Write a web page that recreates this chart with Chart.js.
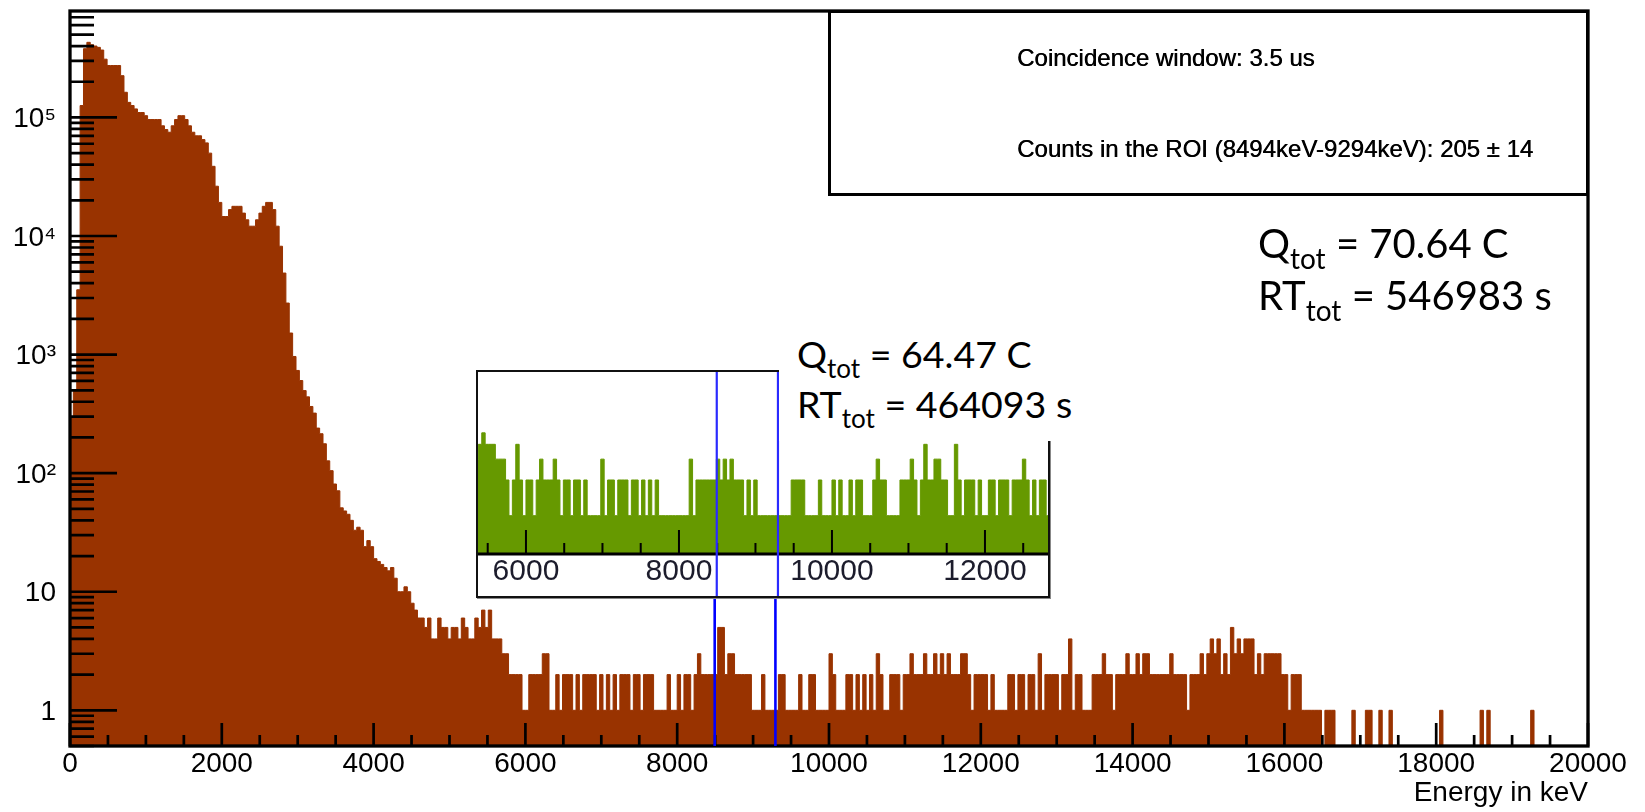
<!DOCTYPE html>
<html>
<head>
<meta charset="utf-8">
<title>Coincidence spectrum</title>
<script src="https://cdn.jsdelivr.net/npm/chart.js@4.4.0/dist/chart.umd.min.js"></script>
<style>
  body { margin: 0; background: #fff; }
  #wrap { position: relative; width: 1645px; height: 812px; overflow: hidden; }
  #spectrum { position: absolute; left: 0; top: 0; }
  #inset { position: absolute; left: 476px; top: 370px; width: 570px; height: 224px;
           border: 2px solid #111; box-shadow: 1px 1px 0 #888; background: #fff; }
  #insetChart { display: block; filter: blur(0.6px); }
  #legend { position: absolute; left: 828px; top: 10px; width: 755px; height: 180px;
            border: 3px solid #000; background: #fff;
            font: 24px "Liberation Sans", Arial, sans-serif; color: #000; }
  #legend div { position: absolute; left: 186px; line-height: 26px; white-space: nowrap;
                filter: blur(0.45px); text-shadow: 0.5px 0 0 #000; }
  .note { position: absolute; font-family: Lato, "Open Sans", sans-serif;
          color: #000; white-space: nowrap; }
  .note sub { vertical-align: baseline; position: relative; }
  #noteRun { left: 779px; top: 322px; width: 300px; height: 119px; padding: 9px 0 0 18px;
             box-sizing: border-box; background: #fff; font-size: 37.5px; line-height: 45px; }
  #noteRun sub { font-size: 26px; top: 10px; }
  #noteAll { left: 1258px; top: 219px; font-size: 40px; line-height: 48px; }
  #noteAll sub { font-size: 28px; top: 11px; }
</style>
</head>
<body>
<div id="wrap">
  <canvas id="spectrum" width="1645" height="812"></canvas>
  <div id="inset"><canvas id="insetChart" width="570" height="224"></canvas></div>
  <div id="legend">
    <div style="top:32px">Coincidence window: 3.5 us</div>
    <div style="top:123px">Counts in the ROI (8494keV-9294keV): 205 ± 14</div>
  </div>
  <div class="note" id="noteRun"><div>Q<sub>tot</sub> = 64.47 C</div><div>RT<sub>tot</sub> = 464093 s</div></div>
  <div class="note" id="noteAll"><div>Q<sub>tot</sub> = 70.64 C</div><div>RT<sub>tot</sub> = 546983 s</div></div>
</div>
<script>
// histogram range, 450 bins
const energyMin = 0;
const energyMax = 20000;

// counts per bin, full statistics
const counts = [
  300, 500, 3520, 126000, 380000, 430000, 410000, 400000, 390000, 370000,
  310000, 274000, 274000, 274000, 274000, 225000, 163000, 134000, 126000, 118000,
  110000, 110000, 103500, 96000, 96000, 96000, 96000, 85000, 79000, 75000,
  85000, 96000, 103500, 103500, 96000, 85000, 75000, 70000, 70000, 65000,
  61000, 50000, 38700, 26300, 19200, 14600, 14600, 16700, 17800, 17800,
  17800, 15600, 13700, 12100, 12100, 13700, 15600, 17800, 19200, 19200,
  16700, 12100, 8200, 4870, 2720, 1520, 964, 735, 604, 497,
  440, 365, 321, 240, 215, 177, 127, 105, 81, 71,
  51, 48, 45, 40, 33, 35, 33, 24, 27, 24,
  19, 18, 17, 16, 15, 16, 13, 10, 10, 11,
  10, 8, 7, 6, 6, 5, 6, 4, 4, 6,
  5, 5, 4, 5, 5, 4, 6, 5, 4, 4,
  6, 5, 7, 5, 7, 4, 4, 4, 3, 3,
  2, 2, 2, 2, 1, 1, 2, 2, 2, 2,
  3, 3, 1, 1, 2, 1, 2, 2, 2, 1,
  2, 1, 2, 2, 2, 2, 1, 2, 1, 2,
  1, 2, 1, 2, 2, 2, 1, 2, 2, 1,
  2, 2, 2, 1, 1, 1, 1, 2, 1, 1,
  2, 1, 2, 2, 1, 2, 3, 2, 2, 2,
  2, 2, 5, 5, 2, 3, 3, 2, 2, 2,
  2, 2, 1, 1, 1, 2, 1, 1, 1, 1,
  2, 2, 1, 1, 1, 1, 2, 1, 1, 2,
  2, 1, 1, 1, 1, 3, 2, 1, 1, 1,
  2, 2, 1, 2, 1, 2, 1, 2, 1, 3,
  2, 1, 1, 2, 2, 2, 1, 2, 2, 3,
  2, 2, 2, 3, 2, 2, 3, 2, 3, 2,
  3, 2, 2, 2, 3, 3, 2, 1, 2, 2,
  2, 2, 1, 2, 1, 1, 1, 1, 2, 2,
  1, 2, 2, 1, 2, 2, 1, 3, 1, 2,
  2, 2, 2, 1, 2, 2, 4, 1, 2, 2,
  1, 1, 1, 2, 2, 2, 3, 2, 2, 1,
  2, 2, 2, 3, 2, 2, 3, 2, 3, 3,
  2, 2, 2, 2, 2, 2, 3, 2, 2, 2,
  2, 1, 2, 2, 2, 3, 2, 3, 4, 3,
  4, 2, 3, 2, 5, 3, 4, 3, 4, 4,
  4, 2, 3, 2, 3, 3, 3, 3, 3, 2,
  2, 1, 2, 2, 2, 1, 1, 1, 1, 1,
  1, 0, 1, 1, 1, 0, 0, 0, 0, 0,
  1, 0, 0, 0, 1, 1, 0, 0, 1, 0,
  0, 1, 0, 0, 0, 0, 0, 0, 0, 0,
  0, 0, 0, 0, 0, 0, 1, 0, 0, 0,
  0, 0, 0, 0, 0, 0, 0, 0, 1, 0,
  1, 0, 0, 0, 0, 0, 0, 0, 0, 0,
  0, 0, 0, 1, 0, 0, 0, 0, 0, 0,
  0, 0, 0, 0, 0, 0, 0, 0, 0, 0
];

// zoomed run (64.47 C), bins 120..289
const insetFirstBin = 120;
const insetCounts = [
  3, 4, 5, 4, 4, 4, 3, 3, 3, 2,
  1, 2, 4, 2, 1, 2, 2, 1, 2, 3,
  2, 2, 2, 3, 2, 1, 2, 2, 1, 2,
  2, 1, 2, 1, 1, 1, 1, 3, 1, 2,
  2, 1, 2, 2, 2, 1, 2, 2, 1, 2,
  1, 2, 1, 2, 1, 1, 1, 1, 1, 1,
  1, 1, 1, 3, 1, 2, 2, 2, 2, 2,
  2, 3, 2, 3, 2, 3, 2, 2, 2, 1,
  2, 1, 2, 1, 1, 1, 1, 1, 1, 1,
  1, 1, 1, 2, 2, 2, 2, 1, 1, 1,
  1, 2, 1, 1, 1, 2, 1, 2, 1, 1,
  2, 1, 2, 2, 1, 1, 1, 2, 3, 2,
  2, 1, 1, 1, 1, 2, 2, 2, 3, 2,
  1, 2, 4, 2, 2, 3, 3, 2, 2, 1,
  1, 4, 2, 1, 2, 2, 2, 1, 2, 1,
  1, 2, 2, 1, 2, 2, 2, 1, 2, 2,
  2, 3, 2, 1, 2, 1, 2, 2, 1, 2
];

// region of interest (keV)
const roiEdges = [8494, 9294];

const xTickValues = [0, 2000, 4000, 6000, 8000, 10000, 12000, 14000, 16000, 18000, 20000];
const insetTickValues = [6000, 8000, 10000, 12000];
const yDecades = [1, 10, 100, 1000, 10000, 100000];
const yTickLabels = ['1', '10', '10²', '10³', '10⁴', '10⁵'];

const binWidth = (energyMax - energyMin) / counts.length;

// step points on the left bin edges, plus the closing edge
function histogramPoints(values, firstBin) {
  const pts = values.map((c, i) => ({
    x: energyMin + (firstBin + i) * binWidth,
    y: c > 0 ? c : 0.01   // empty bins fall below the axis
  }));
  pts.push({ x: energyMin + (firstBin + values.length) * binWidth, y: pts[pts.length - 1].y });
  return pts;
}

function stepTicks(from, to, step) {
  const t = [];
  for (let v = from; v <= to; v += step) t.push({ value: v });
  return t;
}

function logTicks(min, max) {
  const t = [];
  for (let e = -1; e <= 6; e++) {
    for (let m = 1; m <= 9; m++) {
      const v = Number((m * Math.pow(10, e)).toPrecision(3));
      if (v >= min && v <= max) t.push({ value: v });
    }
  }
  return t;
}

// ROOT style ticks: inside the frame, long ones on labelled values
const innerTicks = {
  id: 'innerTicks',
  afterDatasetsDraw(chart, args, opts) {
    const { ctx, chartArea: area } = chart;
    const x = chart.scales.x;
    const y = chart.scales.y;
    ctx.save();
    ctx.strokeStyle = '#000';
    ctx.lineWidth = opts.width;
    ctx.beginPath();
    x.ticks.forEach(t => {
      const px = x.getPixelForValue(t.value);
      const len = t.value % opts.xMajorStep === 0 ? opts.xMajor : opts.xMinor;
      ctx.moveTo(px, area.bottom);
      ctx.lineTo(px, area.bottom - len);
    });
    if (opts.yMajor) {
      y.ticks.forEach(t => {
        const py = y.getPixelForValue(t.value);
        const len = yDecades.includes(t.value) ? opts.yMajor : opts.yMinor;
        ctx.moveTo(area.left, py);
        ctx.lineTo(area.left + len, py);
      });
    }
    ctx.stroke();
    ctx.lineWidth = opts.frameWidth;
    if (opts.box) {
      ctx.strokeRect(area.left, area.top, area.right - area.left, area.bottom - area.top);
    } else {
      ctx.beginPath();
      ctx.moveTo(area.left, area.bottom);
      ctx.lineTo(area.right, area.bottom);
      ctx.stroke();
    }
    ctx.restore();
  }
};

const roiLines = {
  id: 'roiLines',
  afterDatasetsDraw(chart, args, opts) {
    const { ctx, chartArea: area } = chart;
    const x = chart.scales.x;
    ctx.save();
    ctx.strokeStyle = opts.color;
    ctx.lineWidth = opts.width;
    roiEdges.forEach(e => {
      const px = x.getPixelForValue(e);
      ctx.beginPath();
      ctx.moveTo(px, opts.top);
      ctx.lineTo(px, opts.toCanvasBottom ? chart.height : area.bottom);
      ctx.stroke();
    });
    ctx.restore();
  }
};

Chart.defaults.font.family = '"Liberation Sans", Arial, Helvetica, sans-serif';
Chart.defaults.color = '#000';
Chart.defaults.animation = false;

new Chart(document.getElementById('spectrum'), {
  type: 'line',
  data: {
    datasets: [{
      data: histogramPoints(counts, 0),
      stepped: true,
      fill: 'start',
      backgroundColor: '#993300',
      borderColor: '#993300',
      borderWidth: 1,
      pointRadius: 0
    }]
  },
  options: {
    responsive: false,
    layout: { padding: { top: 11, right: 57, left: 0, bottom: 0 } },
    plugins: {
      legend: { display: false },
      tooltip: { enabled: false },
      innerTicks: { width: 2.7, xMajorStep: 2000, xMajor: 23, xMinor: 11, yMajor: 47, yMinor: 24, frameWidth: 3.3, box: true },
      roiLines: { color: '#0000ff', width: 2.6, top: 380 }
    },
    scales: {
      x: {
        type: 'linear',
        min: energyMin,
        max: energyMax,
        grid: { display: false, drawTicks: false },
        border: { display: false },
        afterBuildTicks: axis => { axis.ticks = stepTicks(energyMin, energyMax, 500); },
        afterFit: axis => { axis.height = 66; axis.paddingLeft = 0; axis.paddingRight = 0; },
        ticks: {
          autoSkip: false, maxRotation: 0, padding: 1,
          font: { size: 28 },
          callback: v => (xTickValues.includes(v) ? String(v) : '')
        },
        title: {
          display: true, text: 'Energy in keV', align: 'end',
          font: { size: 28 }, padding: { top: 0, bottom: 2 }
        }
      },
      y: {
        type: 'logarithmic',
        min: 0.5,
        max: 7.9e5,
        grid: { display: false, drawTicks: false },
        border: { display: false },
        afterBuildTicks: axis => { axis.ticks = logTicks(0.5, 7.9e5); },
        afterFit: axis => { axis.width = 70; axis.paddingTop = 0; axis.paddingBottom = 0; },
        ticks: {
          autoSkip: false, padding: 14, labelOffset: 2,
          font: { size: 28 },
          callback: v => {
            const k = yDecades.indexOf(v);
            return k >= 0 ? yTickLabels[k] : '';
          }
        }
      }
    }
  },
  plugins: [innerTicks, roiLines]
});

// inset: same binning, zoomed on the ROI
new Chart(document.getElementById('insetChart'), {
  type: 'line',
  data: {
    datasets: [{
      data: histogramPoints(insetCounts, insetFirstBin),
      stepped: true,
      fill: 'start',
      backgroundColor: '#669900',
      borderColor: '#669900',
      borderWidth: 1,
      pointRadius: 0
    }]
  },
  options: {
    responsive: false,
    layout: { padding: 0 },
    plugins: {
      legend: { display: false },
      tooltip: { enabled: false },
      innerTicks: { width: 2, xMajorStep: 2000, xMajor: 24, xMinor: 11, yMajor: 0, yMinor: 0, frameWidth: 3, box: false },
      roiLines: { color: '#2a2aff', width: 2.2, top: 0, toCanvasBottom: true }
    },
    scales: {
      x: {
        type: 'linear',
        min: 5373,
        max: 12824,
        grid: { display: false, drawTicks: false },
        border: { display: false },
        afterBuildTicks: axis => { axis.ticks = stepTicks(5500, 12500, 500); },
        afterFit: axis => { axis.height = 42; axis.paddingLeft = 0; axis.paddingRight = 0; },
        ticks: {
          autoSkip: false, maxRotation: 0, padding: 0,
          color: '#1c1c2c',
          font: { size: 30 },
          callback: v => (insetTickValues.includes(v) ? String(v) : '')
        }
      },
      y: {
        type: 'logarithmic',
        display: false,
        min: 0.475,
        max: 16.3
      }
    }
  },
  plugins: [innerTicks, roiLines]
});
</script>
</body>
</html>
